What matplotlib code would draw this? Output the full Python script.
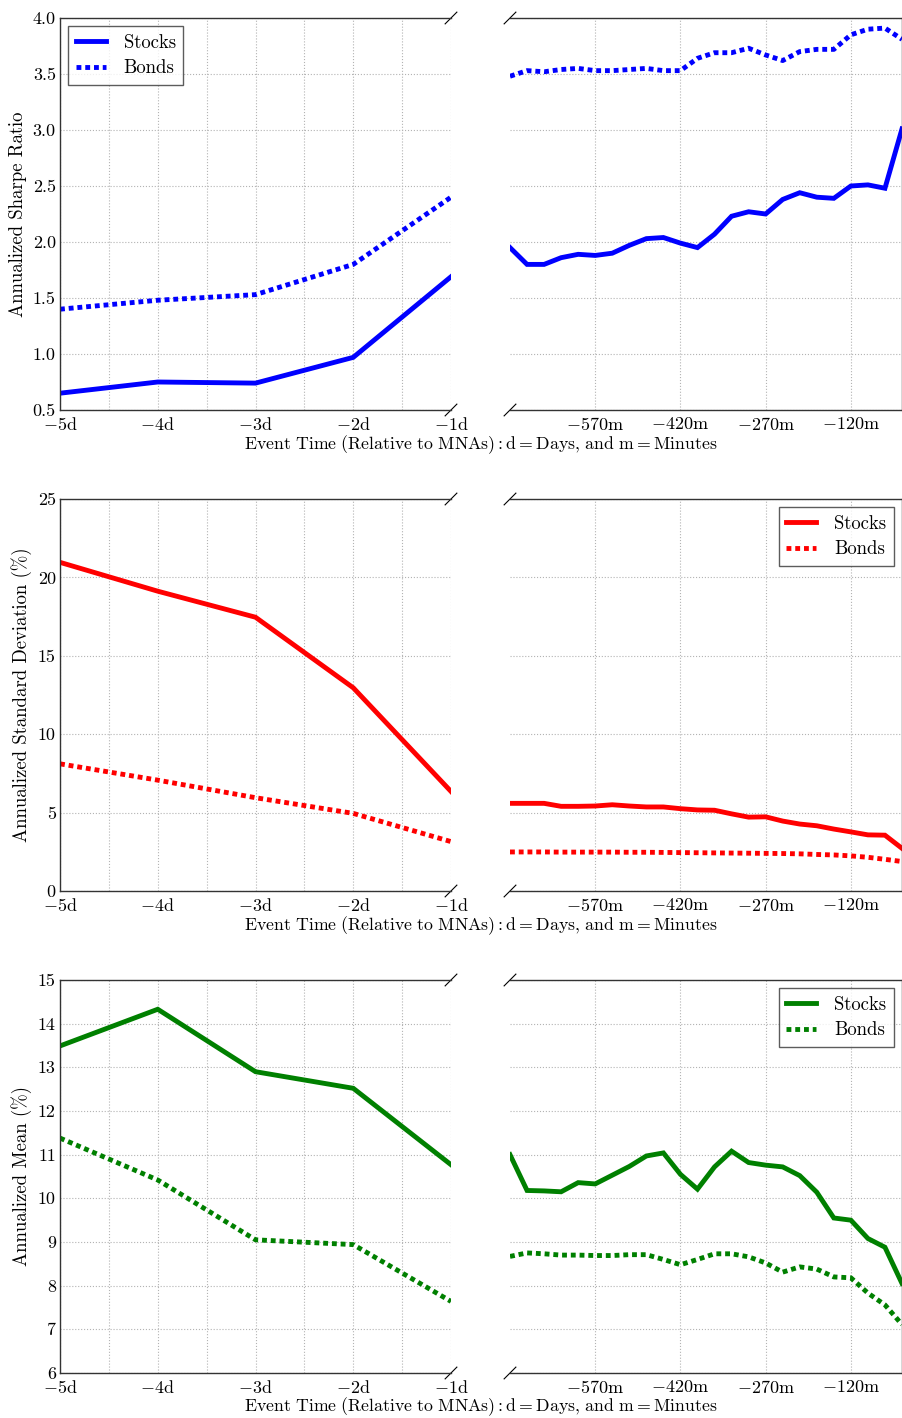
import matplotlib
matplotlib.use('Agg')
import matplotlib.pyplot as plt

plt.rcParams['font.family'] = 'serif'
plt.rcParams['font.serif'] = ['cmr10']
plt.rcParams['mathtext.fontset'] = 'cm'
plt.rcParams['axes.unicode_minus'] = False
plt.rcParams['font.size'] = 13

# event time axes
days = [-5, -4, -3, -2, -1]
day_labels = [r'$-5\mathrm{d}$', r'$-4\mathrm{d}$', r'$-3\mathrm{d}$', r'$-2\mathrm{d}$', r'$-1\mathrm{d}$']
minutes = [-720, -690, -660, -630, -600, -570, -540, -510, -480, -450, -420, -390,
           -360, -330, -300, -270, -240, -210, -180, -150, -120, -90, -60, -30]
min_ticks = [-570, -420, -270, -120]
min_labels = [r'$-570\mathrm{m}$', r'$-420\mathrm{m}$', r'$-270\mathrm{m}$', r'$-120\mathrm{m}$']

# Sharpe ratio
sharpe_stocks_d = [0.65, 0.75, 0.74, 0.97, 1.69]
sharpe_bonds_d = [1.40, 1.48, 1.53, 1.80, 2.40]
sharpe_stocks_m = [1.95, 1.80, 1.80, 1.86, 1.89, 1.88, 1.90, 1.97, 2.03, 2.04, 1.99, 1.95,
                   2.07, 2.23, 2.27, 2.25, 2.38, 2.44, 2.40, 2.39, 2.50, 2.51, 2.48, 3.01]
sharpe_bonds_m = [3.48, 3.53, 3.52, 3.54, 3.55, 3.53, 3.53, 3.54, 3.55, 3.53, 3.53, 3.64,
                  3.69, 3.69, 3.73, 3.67, 3.62, 3.70, 3.72, 3.72, 3.85, 3.90, 3.91, 3.81]

# standard deviation (%)
std_stocks_d = [20.96, 19.12, 17.46, 12.96, 6.35]
std_bonds_d = [8.11, 7.07, 5.95, 4.95, 3.15]
std_stocks_m = [5.59, 5.59, 5.59, 5.40, 5.40, 5.42, 5.50, 5.42, 5.36, 5.36, 5.25, 5.17,
                5.15, 4.92, 4.71, 4.73, 4.46, 4.27, 4.16, 3.95, 3.77, 3.58, 3.56, 2.72]
std_bonds_m = [2.49, 2.49, 2.49, 2.48, 2.48, 2.48, 2.48, 2.47, 2.47, 2.46, 2.45, 2.44,
               2.43, 2.42, 2.41, 2.40, 2.39, 2.37, 2.33, 2.30, 2.24, 2.15, 2.02, 1.88]

# mean (%)
mean_stocks_d = [13.49, 14.33, 12.90, 12.52, 10.77]
mean_bonds_d = [11.38, 10.42, 9.05, 8.94, 7.64]
mean_stocks_m = [11.00, 10.18, 10.17, 10.15, 10.36, 10.33, 10.53, 10.73, 10.97, 11.04, 10.55, 10.21,
                 10.72, 11.08, 10.82, 10.76, 10.72, 10.52, 10.14, 9.55, 9.50, 9.08, 8.88, 8.05]
mean_bonds_m = [8.67, 8.75, 8.73, 8.70, 8.70, 8.69, 8.69, 8.71, 8.71, 8.60, 8.48, 8.60,
                8.73, 8.73, 8.66, 8.52, 8.31, 8.43, 8.38, 8.20, 8.18, 7.83, 7.56, 7.11]

rows = [
    ('Annualized Sharpe Ratio', 'blue', sharpe_stocks_d, sharpe_bonds_d, sharpe_stocks_m, sharpe_bonds_m,
     (0.5, 4.0), [0.5, 1.0, 1.5, 2.0, 2.5, 3.0, 3.5, 4.0], ['0.5', '1.0', '1.5', '2.0', '2.5', '3.0', '3.5', '4.0'], 'left'),
    ('Annualized Standard Deviation (%)', 'red', std_stocks_d, std_bonds_d, std_stocks_m, std_bonds_m,
     (0, 25), [0, 5, 10, 15, 20, 25], ['0', '5', '10', '15', '20', '25'], 'right'),
    ('Annualized Mean (%)', 'green', mean_stocks_d, mean_bonds_d, mean_stocks_m, mean_bonds_m,
     (6, 15), [6, 7, 8, 9, 10, 11, 12, 13, 14, 15], ['6', '7', '8', '9', '10', '11', '12', '13', '14', '15'], 'right'),
]

W, H = 903, 1418
fig = plt.figure(figsize=(W / 100, H / 100), dpi=100)

tops = [18, 499, 980]
bottoms = [410, 891, 1373]
xlab_y = [445, 926, 1407]
dot = (0, (1, 0.8))
lw = 3.5
gkw = dict(color='0.7', linestyle=':', linewidth=0.8)

for r, (ylabel, col, sd, bd, sm, bm, ylim, yt, ytl, legpos) in enumerate(rows):
    b = 1 - bottoms[r] / H
    h = (bottoms[r] - tops[r]) / H
    ax1 = fig.add_axes([60 / W, b, 391 / W, h])
    ax2 = fig.add_axes([510 / W, b, 392 / W, h], sharey=ax1)

    ax1.plot(days, sd, color=col, lw=lw, label='Stocks', solid_joinstyle='miter')
    ax1.plot(days, bd, color=col, lw=lw, linestyle=dot, label='Bonds')
    ax2.plot(minutes, sm, color=col, lw=lw, label='Stocks', solid_joinstyle='miter')
    ax2.plot(minutes, bm, color=col, lw=lw, linestyle=dot, label='Bonds')

    ax1.set_xlim(-5, -1)
    ax1.set_xticks(days)
    ax1.set_xticklabels(day_labels)
    ax1.set_xticks([-4.5, -3.5, -2.5, -1.5], minor=True)
    ax1.set_ylim(*ylim)
    ax1.set_yticks(yt)
    ax1.set_yticklabels(ytl)
    ax1.set_ylabel(ylabel, fontsize=13.5)
    ax1.grid(True, which='both', axis='x', **gkw)
    ax1.grid(True, which='major', axis='y', **gkw)
    ax1.spines['right'].set_visible(False)
    ax1.tick_params(which='both', direction='in', length=0, top=False, right=False)
    ax1.tick_params(axis='x', pad=4)
    ax1.tick_params(axis='y', pad=3)

    ax2.set_xlim(-720, -30)
    ax2.set_xticks(min_ticks)
    ax2.set_xticklabels(min_labels)
    ax2.grid(True, **gkw)
    ax2.spines['left'].set_visible(False)
    ax2.tick_params(which='both', direction='in', length=0, left=False, labelleft=False, right=False, pad=4)

    for ax in (ax1, ax2):
        for s in ax.spines.values():
            s.set_color('0.2')
            s.set_linewidth(1.0)

    # break marks
    d = 0.015
    kw = dict(color='k', clip_on=False, lw=0.8)
    ax1.plot((1 - d, 1 + d), (1 - d, 1 + d), transform=ax1.transAxes, **kw)
    ax1.plot((1 - d, 1 + d), (-d, d), transform=ax1.transAxes, **kw)
    ax2.plot((-d, d), (1 - d, 1 + d), transform=ax2.transAxes, **kw)
    ax2.plot((-d, d), (-d, d), transform=ax2.transAxes, **kw)

    legax = ax1 if legpos == 'left' else ax2
    leg = legax.legend(loc='upper ' + legpos, fancybox=False, handlelength=1.6,
                       handletextpad=0.95, borderpad=0.4, labelspacing=0.4, fontsize=13.5,
                       borderaxespad=0.45)
    leg.get_frame().set_edgecolor('0.2')
    leg.get_frame().set_linewidth(1.0)

    fig.text(481 / W, 1 - xlab_y[r] / H,
             r'$\mathrm{Event\ Time\ (Relative\ to\ MNAs):d=Days{,}\ and\ m=Minutes}$',
             ha='center', va='center', fontsize=12.8)

fig.savefig('out.png', dpi=100)
